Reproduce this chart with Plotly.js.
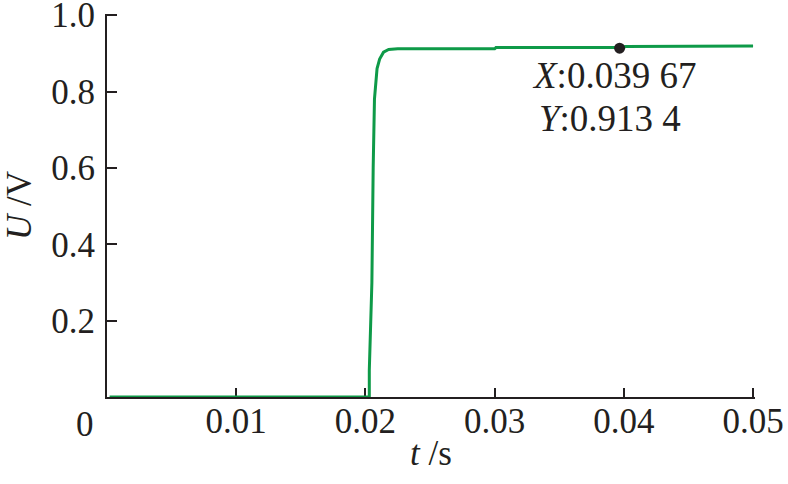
<!DOCTYPE html>
<html>
<head>
<meta charset="utf-8">
<script src="https://cdn.plot.ly/plotly-3.0.1.min.js"></script>
<style>html,body{margin:0;padding:0;background:#fff;}#chart{width:788px;height:484px;}</style>
</head>
<body>
<div id="chart"></div>
<script>
// Time (s) and voltage (V)
const t = [0.0002, 0.0203, 0.0203, 0.0205, 0.0206, 0.0207, 0.0209, 0.0211, 0.0214, 0.0218, 0.0225, 0.0300, 0.0301, 0.0400, 0.0401, 0.0500];
const U = [0, 0, 0.07, 0.30, 0.60, 0.78, 0.86, 0.885, 0.903, 0.910, 0.912, 0.912, 0.915, 0.915, 0.918, 0.919];
// Data cursor point
const cursorT = [0.03967];
const cursorU = [0.9134];
const cursorLabels = ['<i>X</i>:0.039 67', '<i>Y</i>:0.913 4'];
// Axis ticks
const xTicks = [0.01, 0.02, 0.03, 0.04, 0.05];
const xTickText = ['0.01', '0.02', '0.03', '0.04', '0.05'];
const yTicks = [0.2, 0.4, 0.6, 0.8, 1.0];
const yTickText = ['0.2', '0.4', '0.6', '0.8', '1.0'];

const ink = '#231f20';
const font = {family: 'Liberation Serif, Times New Roman, serif', size: 35, color: ink};
const noteFont = {family: 'Liberation Serif, Times New Roman, serif', size: 37, color: ink};

const traces = [
  {x: t, y: U, type: 'scatter', mode: 'lines', line: {color: '#0e9a48', width: 3}, cliponaxis: false, hoverinfo: 'skip'},
  {x: cursorT, y: cursorU, type: 'scatter', mode: 'markers', marker: {color: ink, size: 11}, cliponaxis: false, hoverinfo: 'skip'}
];

const layout = {
  width: 788, height: 484,
  margin: {l: 107, r: 33, t: 14, b: 87},
  paper_bgcolor: '#fff', plot_bgcolor: '#fff',
  showlegend: false,
  font: font,
  xaxis: {
    range: [0, 0.05015], tickvals: xTicks, ticktext: xTickText,
    showgrid: false, zeroline: false, showline: true, linecolor: ink, linewidth: 2,
    ticks: 'inside', ticklen: 9, tickwidth: 2, tickcolor: ink,
    tickfont: font, ticklabelstandoff: -8, ticklabeloverflow: 'allow', layer: 'below traces',
    title: {text: '<i>t</i> /s', font: font, standoff: 0}
  },
  yaxis: {
    range: [0, 1.003], tickvals: yTicks, ticktext: yTickText,
    showgrid: false, zeroline: false, showline: true, linecolor: ink, linewidth: 2,
    ticks: 'inside', ticklen: 10, tickwidth: 2, tickcolor: ink,
    tickfont: font, ticklabelstandoff: 3, ticklabeloverflow: 'allow', layer: 'below traces',
    title: {text: '<i>U</i> /V', font: font, standoff: 16}
  },
  annotations: [
    {xref: 'x', yref: 'paper', x: 0, y: 0, text: '0', showarrow: false, xanchor: 'center', yanchor: 'top', xshift: -22, yshift: -6, font: font},
    {xref: 'paper', yref: 'paper', x: 0.653, y: 0.84, text: cursorLabels[0], showarrow: false, xanchor: 'left', yanchor: 'middle', font: noteFont},
    {xref: 'paper', yref: 'paper', x: 0.664, y: 0.728, text: cursorLabels[1], showarrow: false, xanchor: 'left', yanchor: 'middle', font: noteFont}
  ]
};

Plotly.newPlot('chart', traces, layout, {displayModeBar: false, staticPlot: true});
</script>
</body>
</html>
